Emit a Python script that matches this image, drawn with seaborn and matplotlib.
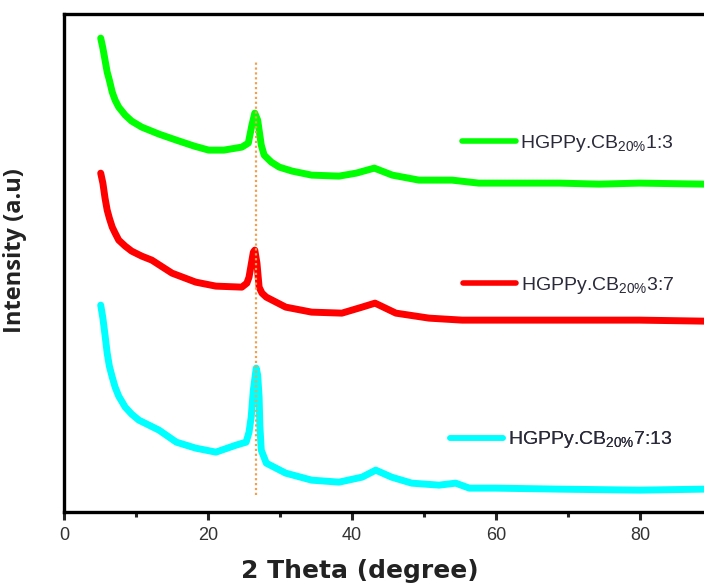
import matplotlib
matplotlib.use('Agg')
import matplotlib.pyplot as plt
import seaborn as sns

# XRD patterns (2 theta in degree, intensity a.u.)
green_x = [5.1, 5.4, 5.7, 6.0, 6.3, 6.7, 7.1, 7.6, 8.5, 9.4, 10.8, 13.2, 15.6, 18.1, 20.1,
           22.2, 24.7, 25.6, 26.1, 26.5, 26.9, 27.4, 27.8, 28.8, 29.9, 31.7, 34.4, 38.2, 40.6,
           43.1, 45.6, 49.3, 53.9, 57.6, 63.2, 68.8, 74.3, 79.9, 88.8, 100]
green_y = [474, 464, 452, 440, 432, 420, 412, 405, 397, 391, 385, 378, 372, 366, 362,
           362, 365, 369, 387, 399, 392, 367, 357, 350, 345, 341, 337, 336, 339,
           344, 337, 332, 332, 329, 329, 329, 328, 329, 328, 328]

red_x = [5.1, 5.4, 5.7, 6.0, 6.3, 6.7, 7.1, 7.6, 8.5, 9.4, 10.8, 12.2, 15.0, 18.3, 21.1,
         24.7, 25.4, 25.7, 26.3, 26.5, 26.8, 27.1, 27.5, 28.1, 30.8, 34.4, 38.6, 41.4, 43.2,
         46.1, 50.7, 55.3, 60.0, 68.8, 79.9, 88.8, 100]
red_y = [339, 329, 314, 302, 294, 285, 279, 272, 266, 261, 256, 252, 239, 230, 226,
         225, 229, 235, 260, 262, 249, 225, 219, 215, 205, 200, 199, 205, 209,
         199, 194, 192, 192, 192, 192, 191, 191]

cyan_x = [5.1, 5.4, 5.7, 6.0, 6.3, 6.7, 7.1, 7.6, 8.5, 9.4, 10.4, 13.2, 15.6, 18.3, 21.1,
          23.9, 25.3, 25.7, 26.0, 26.3, 26.7, 26.9, 27.1, 27.2, 27.4, 28.1, 30.8, 34.4, 38.2,
          41.4, 43.3, 45.5, 48.3, 52.1, 54.4, 56.3, 60.0, 68.8, 79.9, 88.8, 100]
cyan_y = [207, 194, 177, 159, 146, 135, 125, 116, 105, 98, 92, 82, 70, 64, 60,
          67, 70, 80, 95, 122, 144, 137, 115, 87, 62, 49, 39, 32, 30,
          35, 42, 35, 29, 27, 29, 24, 24, 23, 22, 23, 23]

labels = [r'HGPPy.CB$_{\mathrm{20\%}}$1:3',
          r'HGPPy.CB$_{\mathrm{20\%}}$3:7',
          r'HGPPy.CB$_{\mathrm{20\%}}$7:13']
colors = ['#00ff00', '#ff0000', '#00ffff']
peak_x = 26.6

sns.set_theme(style='ticks')
plt.rcParams['font.family'] = ['Liberation Sans', 'DejaVu Sans']
plt.rcParams['mathtext.fontset'] = 'custom'
plt.rcParams['mathtext.rm'] = 'Liberation Sans'
plt.rcParams['mathtext.it'] = 'Liberation Sans:italic'
plt.rcParams['mathtext.bf'] = 'Liberation Sans:bold'

fig = plt.figure(figsize=(7.04, 5.88), dpi=100)
ax = fig.add_axes([0.0909, 0.129, 1.0227, 0.847])

series = [(green_x, green_y), (red_x, red_y), (cyan_x, cyan_y)]
for (xs, ys), c in zip(series, colors):
    sns.lineplot(x=xs, y=ys, color=c, linewidth=5, ax=ax, legend=False)

ax.vlines(peak_x, 17, 450, colors='#f0a050', linestyles=(0, (1, 1.2)), linewidth=1.6)

ax.set_xlim(0, 100)
ax.set_ylim(0, 498)
ax.set_xticks([0, 20, 40, 60, 80])
ax.set_xticks([10, 30, 50, 70], minor=True)
ax.set_yticks([])
for s in ax.spines.values():
    s.set_linewidth(2.4)
    s.set_color('black')
ax.tick_params(axis='x', which='major', direction='out', length=6, width=2.2,
               labelsize=13, labelcolor='#333333', pad=5)
ax.tick_params(axis='x', which='minor', direction='out', length=3.5, width=2.2)

ax.set_xlabel('2 Theta (degree)', fontsize=18, fontweight='bold', color='#222222',
              family=['DejaVu Sans'])
ax.xaxis.set_label_coords(0.411, -0.095)
ax.set_ylabel('Intensity (a.u)', fontsize=17, fontweight='bold', color='#222222',
              family=['Open Sans', 'DejaVu Sans'])
ax.yaxis.set_label_coords(-0.051, 0.526)

# one legend entry per curve, placed beside each trace
anchors = [(0.553, 0.741), (0.554, 0.456), (0.536, 0.145)]
for line, lab, anc in zip(ax.lines[:3], labels, anchors):
    leg = ax.legend(handles=[line], labels=[lab], loc='center left', bbox_to_anchor=anc,
                    frameon=False, fontsize=14, handlelength=2.75, handletextpad=0.25,
                    borderpad=0, borderaxespad=0, labelcolor='#2a2a3a')
    leg.get_lines()[0].set_linewidth(4)
    ax.add_artist(leg)

fig.savefig('out.png', dpi=100)
